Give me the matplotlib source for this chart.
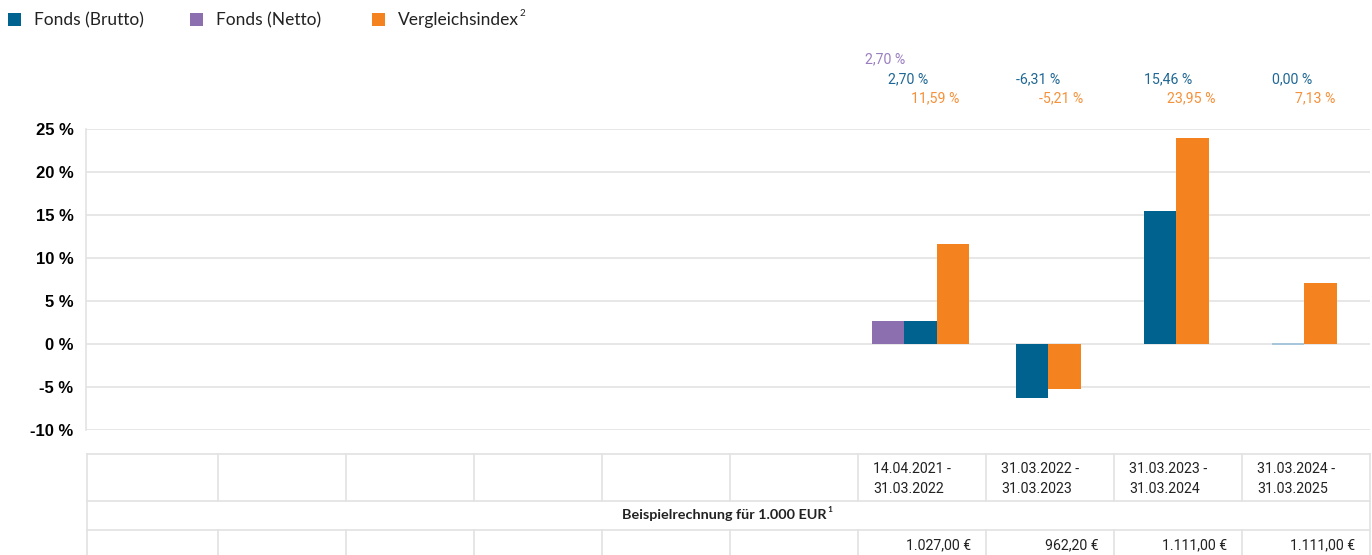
import matplotlib
matplotlib.use("Agg")
import matplotlib.pyplot as plt
from matplotlib.patches import Rectangle
from matplotlib.transforms import blended_transform_factory

# data
periods = ["", "", "", "", "", "",
           "14.04.2021 -\n31.03.2022", "31.03.2022 -\n31.03.2023",
           "31.03.2023 -\n31.03.2024", "31.03.2024 -\n31.03.2025"]
netto = [None] * 6 + [2.70, None, None, None]
brutto = [None] * 6 + [2.70, -6.31, 15.46, 0.00]
index = [None] * 6 + [11.59, -5.21, 23.95, 7.13]
example_values = [""] * 6 + ["1.027,00 €", "962,20 €", "1.111,00 €", "1.111,00 €"]
yticks = [-10, -5, 0, 5, 10, 15, 20, 25]

BLUE = "#00628f"
PURPLE = "#8c6fae"
ORANGE = "#f4821f"
LBL_BLUE = "#1f6794"
LBL_PURPLE = "#9a7fc0"
LBL_ORANGE = "#f5913a"
GRID = "#e3e3e3"
FONT = "Lato"

W, H = 1372, 555
fig = plt.figure(figsize=(W / 100, H / 100), dpi=100)

# overlay in pixel coords for legend / table
ov = fig.add_axes([0, 0, 1, 1], zorder=-1)
ov.set_xlim(0, W)
ov.set_ylim(H, 0)
ov.axis("off")

# main chart
ax_l, ax_r, ax_t, ax_b = 86, 1370, 129, 430
ax = fig.add_axes([ax_l / W, 1 - ax_b / H, (ax_r - ax_l) / W, (ax_b - ax_t) / H])
col_w = 128.0
x0_px = 90.0
ax.set_xlim(-0.5 - (x0_px - ax_l) / col_w, -0.5 + (ax_r - x0_px) / col_w)
ax.set_ylim(-10, 25)

bw = 0.253
series = [(netto, PURPLE), (brutto, BLUE), (index, ORANGE)]
for i in range(len(periods)):
    present = [(s[i], c) for s, c in series if s[i] is not None]
    n = len(present)
    for k, (v, c) in enumerate(present):
        x = i - 0.012 + (k - (n - 1) / 2) * bw
        if v == 0:
            ax.bar(x, 0.12, bw, bottom=-0.06, color="#a8c6da", linewidth=0, zorder=3)
        else:
            ax.bar(x, v, bw, color=c, linewidth=0, zorder=3)

ax.set_yticks(yticks)
ax.set_yticklabels([f"{t} %" for t in yticks], fontsize=12, fontweight="bold",
                   family="Liberation Sans")
ax.tick_params(axis="y", length=0, pad=9)
ax.set_xticks([])
ax.grid(axis="y", color=GRID, linewidth=1.2, zorder=0)
for s in ["top", "right", "bottom"]:
    ax.spines[s].set_visible(False)
ax.spines["left"].set_color(GRID)
ax.spines["left"].set_linewidth(1.2)

# value labels above the plot
tr = blended_transform_factory(ax.transData, ov.transData)
lbl_rows = [(netto, LBL_PURPLE, 7, 59), (brutto, LBL_BLUE, 30, 79), (index, LBL_ORANGE, 53, 98)]
for s, c, off, ypx in lbl_rows:
    for i, v in enumerate(s):
        if v is None:
            continue
        txt = f"{v:.2f}".replace(".", ",") + " %"
        ax.text(i - 0.5 + off / col_w, ypx, txt, transform=tr, color=c,
                fontsize=10.2, family="Roboto", ha="left", va="center", clip_on=False)

# legend
legend_items = [("Fonds (Brutto)", BLUE, 8), ("Fonds (Netto)", PURPLE, 190),
                ("Vergleichsindex", ORANGE, 372)]
for label, c, xpx in legend_items:
    ov.add_patch(Rectangle((xpx, 13), 12.5, 12.5, color=c, linewidth=0))
    t = ov.text(xpx + 26, 20, label, fontsize=12.5, family=FONT, va="center",
                ha="left", color="#222222")

title = ov.text(724, 515, "Beispielrechnung für 1.000 EUR", fontsize=10.4,
                fontweight="bold", family=FONT, ha="center", va="center", color="#222222")

fig.canvas.draw()
inv = ov.transData.inverted()
x_end = inv.transform((t.get_window_extent().x1, 0))[0]
ov.text(x_end + 1, 14, "2", fontsize=7, family=FONT, va="center", ha="left",
        color="#222222")
x_end = inv.transform((title.get_window_extent().x1, 0))[0]
ov.text(x_end + 1, 510, "1", fontsize=6, fontweight="bold", family=FONT,
        ha="left", va="center", color="#222222")

# table below the chart
t_left, t_right = 87, 1370
rows_y = [454, 501, 530, 555]
lc = "#e2e2e2"
for y in rows_y[:3]:
    ov.plot([t_left, t_right], [y, y], color=lc, lw=1.2)
ov.plot([t_left, t_left], [rows_y[0], H], color=lc, lw=1.2)
ov.plot([t_right, t_right], [rows_y[0], H], color=lc, lw=1.2)
for i in range(1, len(periods)):
    ax.plot([i - 0.5, i - 0.5], [rows_y[0], rows_y[1]], transform=tr, color=lc,
            lw=1.2, clip_on=False)
    ax.plot([i - 0.5, i - 0.5], [rows_y[2], rows_y[3]], transform=tr, color=lc,
            lw=1.2, clip_on=False)
for i, p in enumerate(periods):
    if p:
        ax.text(i - 0.5 + 15 / col_w, 479, p, transform=tr, fontsize=10.2, family="Roboto",
                ha="left", va="center", linespacing=1.55, color="#222222", clip_on=False)
for i, v in enumerate(example_values):
    if v:
        ax.text(i + 0.5 - 15 / col_w, 545, v, transform=tr, fontsize=10.2, family="Roboto",
                ha="right", va="center", color="#222222", clip_on=False)

fig.savefig("out.png", dpi=100)
